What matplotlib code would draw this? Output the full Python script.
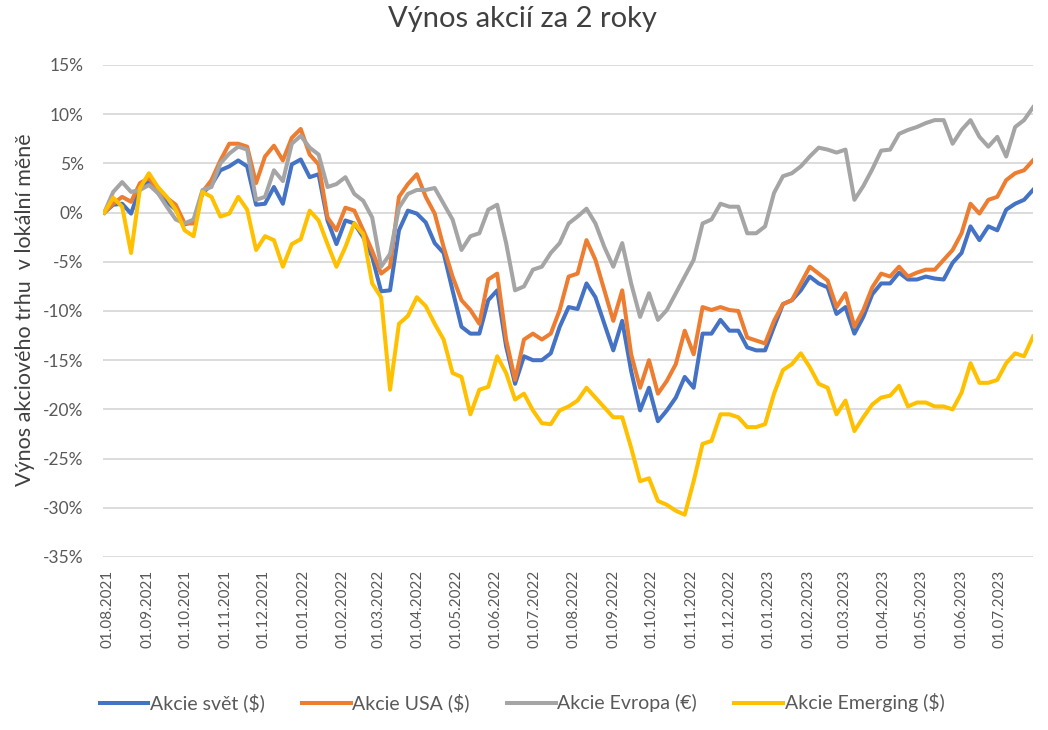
import matplotlib
matplotlib.use('Agg')
import matplotlib.pyplot as plt
import matplotlib.transforms as mtransforms
from matplotlib.lines import Line2D
import pandas as pd

# ---------------- data (weekly readings, % return since 02.08.2021) ----------------
start_date = '2021-08-02'

svet = [0, 0.8, 0.9, -0.1, 2.5, 3.1, 2.0, 1.1, 0.3, -1.2,
        -0.9, 2.0, 2.8, 4.3, 4.7, 5.3, 4.7, 0.8, 0.9, 2.6,
        0.9, 4.9, 5.4, 3.6, 3.9, -0.8, -3.2, -0.8, -1.1, -2.5,
        -4.5, -8.0, -7.9, -1.8, 0.2, -0.1, -1.0, -3.1, -4.1, -7.9,
        -11.6, -12.3, -12.3, -8.9, -7.9, -13.6, -17.4, -14.6, -15.0, -15.0,
        -14.3, -11.6, -9.6, -9.8, -7.2, -8.6, -11.3, -14.0, -11.0, -16.1,
        -20.1, -17.8, -21.2, -20.1, -18.8, -16.7, -17.8, -12.3, -12.3, -10.9,
        -12.0, -12.0, -13.7, -14.0, -14.0, -11.6, -9.3, -8.9, -7.9, -6.5,
        -7.2, -7.6, -10.3, -9.6, -12.3, -10.6, -8.3, -7.2, -7.2, -6.1,
        -6.8, -6.8, -6.5, -6.7, -6.8, -5.1, -4.1, -1.4, -2.8, -1.4,
        -1.8, 0.3, 0.9, 1.3, 2.3]

usa = [0, 0.9, 1.6, 1.1, 3.0, 3.5, 2.3, 1.5, 0.8, -1.1,
       -1.1, 2.1, 3.3, 5.3, 7.0, 7.0, 6.7, 3.0, 5.7, 6.8,
       5.3, 7.6, 8.5, 5.9, 4.9, -0.5, -1.8, 0.5, 0.2, -1.8,
       -3.9, -6.2, -5.5, 1.6, 2.9, 3.9, 1.6, -0.1, -3.5, -6.5,
       -8.9, -9.9, -11.3, -6.8, -6.2, -12.9, -17.0, -12.9, -12.3, -12.9,
       -12.3, -9.9, -6.5, -6.2, -2.8, -4.8, -7.9, -11.0, -7.9, -14.4,
       -17.8, -15.0, -18.4, -17.1, -15.4, -12.0, -14.4, -9.6, -9.9, -9.6,
       -9.9, -10.0, -12.7, -13.0, -13.3, -11.0, -9.3, -8.9, -7.2, -5.5,
       -6.2, -6.9, -9.6, -8.2, -11.6, -9.9, -7.6, -6.2, -6.5, -5.5,
       -6.5, -6.1, -5.8, -5.8, -4.8, -3.8, -2.1, 0.9, -0.1, 1.3,
       1.6, 3.3, 4.0, 4.3, 5.3]

evropa = [0, 2.1, 3.1, 2.1, 2.3, 2.8, 2.0, 0.6, -0.7, -1.1,
          -0.7, 2.3, 2.6, 5.0, 6.0, 6.7, 6.4, 1.3, 1.6, 4.3,
          3.2, 7.0, 7.8, 6.6, 5.9, 2.6, 2.9, 3.6, 1.9, 1.2,
          -0.5, -5.5, -4.2, 0.5, 1.9, 2.3, 2.3, 2.5, 0.9, -0.7,
          -3.8, -2.4, -2.1, 0.3, 0.8, -3.1, -7.9, -7.5, -5.8, -5.5,
          -4.1, -3.1, -1.1, -0.4, 0.4, -1.1, -3.5, -5.5, -3.1, -7.2,
          -10.6, -8.2, -10.9, -9.9, -8.2, -6.5, -4.8, -1.1, -0.7, 0.9,
          0.6, 0.6, -2.1, -2.1, -1.4, 2.0, 3.7, 4.0, 4.7, 5.7,
          6.6, 6.4, 6.1, 6.4, 1.3, 2.7, 4.4, 6.3, 6.4, 8.0,
          8.4, 8.7, 9.1, 9.4, 9.4, 7.0, 8.4, 9.4, 7.7, 6.7,
          7.7, 5.7, 8.7, 9.4, 10.7]

emerging = [0, 1.5, 0.6, -4.1, 2.5, 4.0, 2.6, 1.6, 0.3, -1.8,
            -2.4, 2.1, 1.6, -0.4, -0.1, 1.6, 0.3, -3.8, -2.4, -2.8,
            -5.5, -3.2, -2.7, 0.2, -0.8, -3.2, -5.5, -3.5, -1.1, -2.2,
            -7.2, -8.6, -18.0, -11.3, -10.5, -8.6, -9.5, -11.3, -12.9, -16.3,
            -16.7, -20.5, -18.0, -17.7, -14.6, -16.3, -19.0, -18.4, -20.1, -21.4,
            -21.5, -20.1, -19.7, -19.1, -17.8, -18.8, -19.8, -20.8, -20.8, -23.9,
            -27.3, -27.0, -29.3, -29.7, -30.3, -30.7, -27.3, -23.5, -23.2, -20.5,
            -20.5, -20.8, -21.8, -21.8, -21.5, -18.4, -16.0, -15.4, -14.3, -15.7,
            -17.4, -17.8, -20.5, -19.1, -22.2, -20.8, -19.5, -18.8, -18.6, -17.6,
            -19.7, -19.3, -19.3, -19.7, -19.7, -20.0, -18.3, -15.3, -17.3, -17.3,
            -17.0, -15.3, -14.3, -14.6, -12.6]

series_names = ['Akcie svět ($)', 'Akcie USA ($)', 'Akcie Evropa (€)', 'Akcie Emerging ($)']
series_colors = ['#4472C4', '#ED7D31', '#A5A5A5', '#FFC000']
month_ticks = pd.date_range('2021-08-01', '2023-07-01', freq='MS')
y_ticks = list(range(-35, 16, 5))
title = 'Výnos akcií za 2 roky'
y_label = 'Výnos akciového trhu  v lokální měně'

dates = pd.date_range(start_date, periods=len(svet), freq='7D')

# ---------------- figure ----------------
plt.rcParams['font.family'] = ['Lato', 'DejaVu Sans']
W, H = 1048, 730
fig = plt.figure(figsize=(W / 100, H / 100), dpi=100)
left, right, top, bottom = 103, 1033, 65, 557
ax = fig.add_axes([left / W, (H - bottom) / H, (right - left) / W, (bottom - top) / H])

for vals, name, col in zip([svet, usa, evropa, emerging], series_names, series_colors):
    ax.plot(dates, vals, color=col, lw=2.9, label=name, solid_joinstyle='round', zorder=3)

ax.set_xlim(dates[0], dates[-1])
ax.set_ylim(-35, 15)
ax.set_yticks(y_ticks)
ax.set_yticklabels([f'{v}%' for v in y_ticks])
ax.set_xticks(month_ticks)
ax.set_xticklabels([d.strftime('%d.%m.%Y') for d in month_ticks], rotation=90, va='top', ha='center')

ax.yaxis.grid(True, color='#d9d9d9', lw=1.3, zorder=0)
ax.xaxis.grid(False)
for s in ax.spines.values():
    s.set_visible(False)
ax.tick_params(axis='both', length=0, colors='#595959')
ax.tick_params(axis='y', labelsize=12.5, pad=14)
ax.tick_params(axis='x', labelsize=11, pad=9)

offset = mtransforms.ScaledTranslation(5 / 100, 0, fig.dpi_scale_trans)
for lbl in ax.get_xticklabels():
    lbl.set_transform(lbl.get_transform() + offset)

fig.text(522 / W, 1 - 19 / H, title, ha='center', va='center', fontsize=21, color='#404040')
fig.text(25 / W, 1 - 310 / H, y_label, ha='center', va='center', rotation=90, fontsize=15.5, color='#404040')

handles = [Line2D([0], [0], color=c, lw=2.9) for c in series_colors]
fig.legend(handles, series_names, loc='center', bbox_to_anchor=(522 / W, 1 - 703 / H), ncol=4,
           frameon=False, fontsize=14, handlelength=2.5, handletextpad=0.1, columnspacing=1.9,
           labelcolor='#595959')

fig.savefig('out.png', dpi=100)
